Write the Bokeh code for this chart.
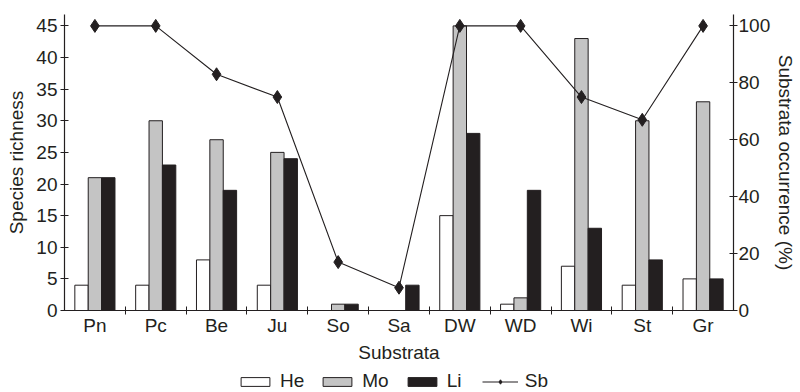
import numpy as np
from bokeh.plotting import figure
from bokeh.layouts import column
from bokeh.models import Range1d, LinearAxis, FixedTicker, Legend, LegendItem
from bokeh.embed import file_html
from bokeh.resources import INLINE

categories = ["Pn", "Pc", "Be", "Ju", "So", "Sa", "DW", "WD", "Wi", "St", "Gr"]
he = [4, 4, 8, 4, 0, 0, 15, 1, 7, 4, 5]
mo = [21, 30, 27, 25, 1, 0, 45, 2, 43, 30, 33]
li = [21, 23, 19, 24, 1, 4, 28, 19, 13, 8, 5]
sb = [100, 100, 83, 75, 17, 8, 100, 100, 75, 67, 100]
left_ticks = [0, 5, 10, 15, 20, 25, 30, 35, 40, 45]
right_ticks = [0, 20, 40, 60, 80, 100]
series_names = ["He", "Mo", "Li", "Sb"]

FONT = "Liberation Sans"
INK = "#231f20"
GRAY = "#c4c4c4"
FS = "19px"

n = len(categories)
x = np.arange(n)
bw = 0.22

main = figure(frame_width=669, frame_height=296, output_backend="svg", toolbar_location=None,
              x_range=Range1d(-0.5, n - 0.5), y_range=Range1d(0, 46.8),
              min_border_left=64, min_border_right=67, min_border_top=14, min_border_bottom=56)
main.extra_y_ranges = {"occ": Range1d(0, 104)}
main.outline_line_color = None
main.xgrid.visible = False
main.ygrid.visible = False
main.background_fill_color = "white"
main.border_fill_color = "white"

main.vbar(x=x - bw, top=he, width=bw, fill_color="white", line_color=INK, line_width=1)
main.vbar(x=x, top=mo, width=bw, fill_color=GRAY, line_color=INK, line_width=1)
main.vbar(x=x + bw, top=li, width=bw, fill_color=INK, line_color=INK, line_width=1)
main.line(x=x, y=sb, y_range_name="occ", line_color=INK, line_width=1.1)
main.scatter(x=x, y=sb, y_range_name="occ", marker="diamond", size=13,
             fill_color=INK, line_color=INK)

def style_axis(ax):
    ax.axis_line_color = INK
    ax.axis_line_width = 1.2
    ax.major_tick_line_color = INK
    ax.minor_tick_line_color = INK
    ax.major_label_text_font = FONT
    ax.major_label_text_font_size = FS
    ax.major_label_text_color = INK
    ax.axis_label_text_font = FONT
    ax.axis_label_text_font_size = FS
    ax.axis_label_text_font_style = "normal"
    ax.axis_label_text_color = INK

# bottom axis
xa = main.xaxis[0]
style_axis(xa)
xa.ticker = FixedTicker(ticks=list(x), minor_ticks=[i + 0.5 for i in range(n - 1)])
xa.major_label_overrides = {int(i): c for i, c in zip(x, categories)}
xa.major_tick_in = 0
xa.major_tick_out = 0
xa.minor_tick_in = 4
xa.minor_tick_out = 4
xa.major_label_standoff = 0
xa.axis_label = "Substrata"
xa.axis_label_standoff = 3

# left axis
ya = main.yaxis[0]
style_axis(ya)
ya.ticker = FixedTicker(ticks=left_ticks)
ya.major_tick_in = 4
ya.major_tick_out = 4
ya.minor_tick_line_color = None
ya.major_label_standoff = 3
ya.axis_label = "Species richness"
ya.axis_label_standoff = 6

# right axis
ra = LinearAxis(y_range_name="occ", ticker=FixedTicker(ticks=right_ticks))
style_axis(ra)
ra.major_tick_in = 4
ra.major_tick_out = 4
ra.minor_tick_line_color = None
ra.major_label_standoff = 1
ra.axis_label = "Substrata occurrence (%)"
ra.axis_label_standoff = 2
main.add_layout(ra, "right")

# legend strip below the chart (series drawn out of view, only the legend shows)
leg = figure(width=800, height=30, output_backend="svg", toolbar_location=None,
             x_axis_type=None, y_axis_type=None,
             x_range=Range1d(-0.5, n - 0.5), y_range=Range1d(1000, 1001),
             min_border_left=0, min_border_right=0, min_border_top=0, min_border_bottom=0)
leg.outline_line_color = None
leg.xgrid.visible = False
leg.ygrid.visible = False
leg.background_fill_color = "white"
leg.border_fill_color = "white"
lh = leg.vbar(x=x, top=he, width=bw, fill_color="white", line_color=INK, line_width=1)
lm = leg.vbar(x=x, top=mo, width=bw, fill_color=GRAY, line_color=INK, line_width=1)
ll = leg.vbar(x=x, top=li, width=bw, fill_color=INK, line_color=INK, line_width=1)
lsl = leg.line(x=x, y=sb, line_color=INK, line_width=1.1)
lsm = leg.scatter(x=x, y=sb, marker="diamond", size=10, fill_color=INK, line_color=INK)

legend = Legend(items=[
    LegendItem(label=series_names[0], renderers=[lh]),
    LegendItem(label=series_names[1], renderers=[lm]),
    LegendItem(label=series_names[2], renderers=[ll]),
    LegendItem(label=series_names[3], renderers=[lsl, lsm]),
], orientation="horizontal", location=(173, 4))
legend.glyph_width = 36
legend.glyph_height = 11
legend.label_standoff = 7
legend.spacing = 15
legend.padding = 0
legend.margin = 0
legend.border_line_color = None
legend.background_fill_alpha = 0
legend.label_text_font = FONT
legend.label_text_font_size = FS
legend.label_text_color = INK
leg.add_layout(legend, "center")

p = column(main, leg, spacing=0)

open("out.html", "w").write(file_html(p, INLINE))
